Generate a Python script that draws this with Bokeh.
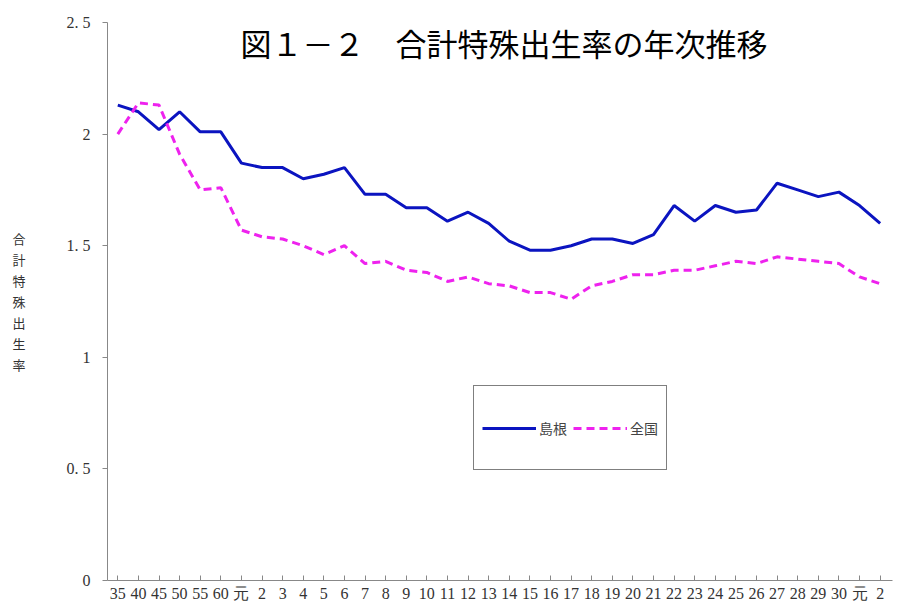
from bokeh.plotting import figure
from bokeh.models import FixedTicker, Label, Legend, LegendItem
from bokeh.embed import file_html
from bokeh.resources import INLINE

years = ["35", "40", "45", "50", "55", "60", "元"] + [str(i) for i in range(2, 31)] + ["元", "2"]
shimane = [2.13, 2.10, 2.02, 2.10, 2.01, 2.01, 1.87, 1.85, 1.85, 1.80, 1.82, 1.85, 1.73, 1.73,
           1.67, 1.67, 1.61, 1.65, 1.60, 1.52, 1.48, 1.48, 1.50, 1.53, 1.53, 1.51, 1.55, 1.68,
           1.61, 1.68, 1.65, 1.66, 1.78, 1.75, 1.72, 1.74, 1.68, 1.60]
zenkoku = [2.00, 2.14, 2.13, 1.91, 1.75, 1.76, 1.57, 1.54, 1.53, 1.50, 1.46, 1.50, 1.42, 1.43,
           1.39, 1.38, 1.34, 1.36, 1.33, 1.32, 1.29, 1.29, 1.26, 1.32, 1.34, 1.37, 1.37, 1.39,
           1.39, 1.41, 1.43, 1.42, 1.45, 1.44, 1.43, 1.42, 1.36, 1.33]
y_ticks = [0, 0.5, 1, 1.5, 2, 2.5]
y_labels = ["0", "0. 5", "1", "1. 5", "2", "2. 5"]

x = list(range(len(years)))

p = figure(width=894, height=604, output_backend="svg", toolbar_location=None,
           x_range=(-0.5, len(years) - 0.4), y_range=(0, 2.5),
           min_border_left=107, min_border_right=2, min_border_top=22, min_border_bottom=22)
p.outline_line_color = None
p.xgrid.visible = False
p.ygrid.visible = False

p.xaxis.ticker = FixedTicker(ticks=x)
p.xaxis.major_label_overrides = {i: t for i, t in enumerate(years)}
p.yaxis.ticker = FixedTicker(ticks=y_ticks)
p.yaxis.major_label_overrides = {t: l for t, l in zip(y_ticks, y_labels)}
for ax in (p.xaxis, p.yaxis):
    ax.major_label_text_font = "Liberation Serif"
    ax.major_label_text_font_size = "16px"
    ax.major_label_text_color = "#333333"
    ax.axis_line_color = "#888888"
    ax.major_tick_line_color = "#888888"
    ax.minor_tick_line_color = None
p.xaxis.major_tick_in = 5
p.xaxis.major_tick_out = 0
p.xaxis.major_label_standoff = 4
p.yaxis.major_tick_in = 0
p.yaxis.major_tick_out = 5
p.yaxis.major_label_standoff = 12
p.yaxis.axis_label = "合\n計\n特\n殊\n出\n生\n率"
p.yaxis.axis_label_orientation = "horizontal"
p.yaxis.axis_label_text_font = "Noto Sans CJK JP"
p.yaxis.axis_label_text_font_style = "normal"
p.yaxis.axis_label_text_font_size = "13px"
p.yaxis.axis_label_text_color = "#333333"
p.yaxis.axis_label_text_line_height = 1.1
p.yaxis.axis_label_standoff = 38

r1 = p.line(x, shimane, line_color="#0b14c0", line_width=3)
r2 = p.line(x, zenkoku, line_color="#ee22ee", line_width=3, line_dash="8 5")

legend = Legend(items=[LegendItem(label="島根", renderers=[r1]),
                       LegendItem(label="全国", renderers=[r2])],
                orientation="horizontal", location=(366, 110),
                border_line_color="black", border_line_width=1,
                label_text_font="Noto Sans CJK JP", label_text_font_size="14px",
                glyph_width=54, padding=8, margin=0, spacing=6,
                label_standoff=3)
legend.label_height = 67
p.add_layout(legend, "center")

p.add_layout(Label(x=133, y=538, x_units="screen", y_units="screen",
                   text="図１－２　合計特殊出生率の年次推移",
                   text_font="Noto Sans CJK JP", text_font_size="31px",
                   text_color="black", text_baseline="middle"))

open("out.html", "w").write(file_html(p, INLINE))
